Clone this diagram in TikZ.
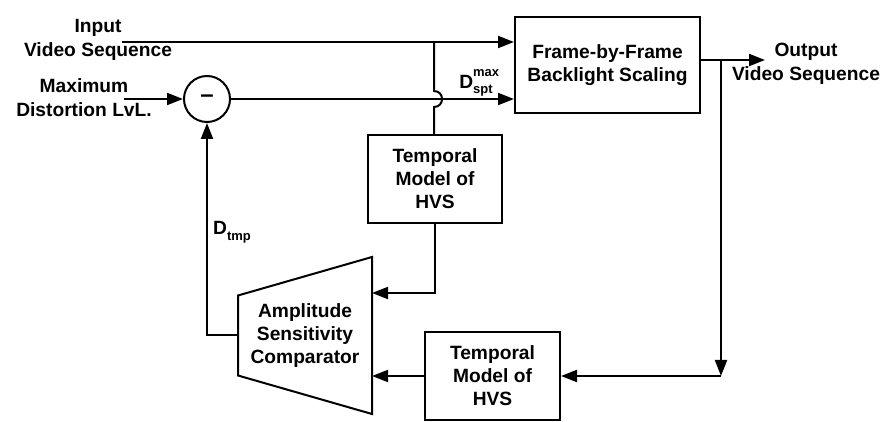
\documentclass[tikz,border=0pt]{standalone}
\usepackage{amsmath}
\usepackage{fontspec}
\setmainfont{Liberation Sans}
\usetikzlibrary{calc}
\usetikzlibrary{positioning}
\usetikzlibrary{arrows.meta}
\tikzset{
    block/.style={draw, line width=1pt, align=center, inner sep=0pt,
        font=\fontsize{9.6}{11.5}\selectfont\bfseries},
    labeltext/.style={align=center, inner sep=0pt,
        font=\fontsize{9.6}{12}\selectfont\bfseries},
    wire/.style={line width=1pt},
    feed/.style={line width=1pt, -{Triangle[length=8pt,width=6pt]}},
}

\begin{document}
\begin{tikzpicture}[x=0.5pt, y=-0.5pt]
    \useasboundingbox (0,0) rectangle (890,422);

    \node (fbf) at (607.5,65) [block, minimum width=92.5pt, minimum height=48pt] {Frame-by-Frame\\Backlight Scaling};
    \node (tm1) at (435,179) [block, minimum width=67pt, minimum height=44pt] {Temporal\\Model of\\HVS};
    \node (tm2) at (492.5,376) [block, minimum width=67.5pt, minimum height=44pt] {Temporal\\Model of\\HVS};
    \node (sub) at (207,99) [block, circle, minimum size=23pt] {\fontsize{12}{12}\selectfont --};
    \node (asc) at (305,335.5) [block, draw=none, minimum width=66pt, minimum height=77.5pt] {Amplitude\\Sensitivity\\Comparator};
    \draw[wire] ($(asc.west)+(0,-40)$) -- (asc.north east) -- (asc.south east) -- ($(asc.west)+(0,40)$) -- cycle;

    \node (inl) at (98,40) [labeltext] {Input\\Video Sequence};
    \node (maxl) at (84,98) [labeltext] {Maximum\\Distortion LvL.};
    \node (outl) at (806,64) [labeltext] {Output\\Video Sequence};
    \node (dspt) at (476,83) [labeltext] {D\rlap{\raisebox{6pt}{\fontsize{6.5}{7}\selectfont max}}\raisebox{-2.8pt}{\fontsize{6.5}{7}\selectfont spt}};
    \node (dtmp) at (232,232) [labeltext] {D\raisebox{-2.8pt}{\fontsize{6.5}{7}\selectfont tmp}};

    \coordinate (inS) at (122,42);
    \coordinate (j1) at (434,42);
    \coordinate (maxS) at (124,99);
    \coordinate (outE) at (765,60);
    \coordinate (j2) at (721,60);
    \coordinate (c2) at (721,376);
    \coordinate (c1) at (435,293);

    \draw[feed] (inS) -- (inS -| fbf.west);
    \draw[wire] (j1) -- (434,91) .. controls (444.7,91) and (444.7,107) .. (434,107) -- (j1 |- tm1.north);
    \draw[feed] (maxS) -- (sub.west);
    \draw[feed] (sub.east) -- (sub -| fbf.west);
    \draw[feed] (fbf.east |- outE) -- (outE);
    \draw[feed] (j2) -- (c2);
    \draw[feed] (c2) -- (tm2.east);
    \draw[feed] (tm1.south) -- (c1) -- (c1 -| asc.east);
    \draw[feed] (tm2.west) -- (asc.east |- tm2.west);
    \draw[feed] (asc.west) -| (sub.south);
\end{tikzpicture}
\end{document}
